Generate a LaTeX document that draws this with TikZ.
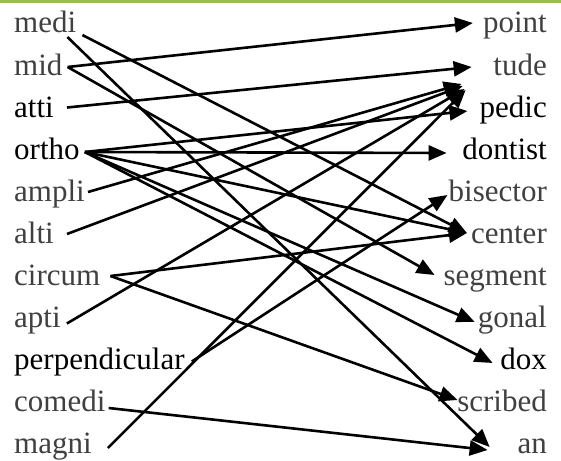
\documentclass[tikz,border=0pt]{standalone}
\usepackage{fontspec}
\setmainfont{Liberation Serif}
\usetikzlibrary{arrows.meta}

\definecolor{wordgray}{HTML}{404040}
\definecolor{topgreen}{HTML}{9BBB59}

\tikzset{
    lword/.style={anchor=base west, inner sep=0pt, text=wordgray, font=\rmfamily\fontsize{31}{36}\selectfont},
    rword/.style={anchor=base east, inner sep=0pt, text=wordgray, font=\rmfamily\fontsize{31}{36}\selectfont},
    link/.style={line width=2.6pt, -{Triangle[length=18pt, width=15pt]}}
}

\begin{document}
\begin{tikzpicture}[x=1pt, y=-1pt]
        \useasboundingbox (0, 0) rectangle (561, 460);
        \fill[topgreen] (0, 0) rectangle (561, 3);

        % left column
        \node[lword] (medi) at (14, 33) {medi};
        \node[lword] (mid) at (14, 75) {mid};
        \node[lword, text=black] (atti) at (14, 117) {atti};
        \node[lword, text=black] (ortho) at (14, 159) {ortho};
        \node[lword] (ampli) at (14, 201) {ampli};
        \node[lword] (alti) at (14, 243) {alti};
        \node[lword] (circum) at (14, 285) {circum};
        \node[lword] (apti) at (14, 327) {apti};
        \node[lword, text=black] (perpendicular) at (14, 369) {perpendicular};
        \node[lword] (comedi) at (14, 411) {comedi};
        \node[lword] (magni) at (14, 453) {magni};

        % right column
        \node[rword] (point) at (547, 33) {point};
        \node[rword] (tude) at (547, 75) {tude};
        \node[rword, text=black] (pedic) at (547, 117) {pedic};
        \node[rword, text=black] (dontist) at (547, 159) {dontist};
        \node[rword] (bisector) at (547, 201) {bisector};
        \node[rword] (center) at (547, 243) {center};
        \node[rword] (segment) at (547, 285) {segment};
        \node[rword] (gonal) at (547, 327) {gonal};
        \node[rword, text=black] (dox) at (547, 369) {dox};
        \node[rword] (scribed) at (547, 411) {scribed};
        \node[rword] (an) at (547, 453) {an};

        % matches
        \draw[link] ([xshift=-9pt, yshift=-4pt]medi.base east) -- ([xshift=-27.7pt, yshift=6pt]an.base west);
        \draw[link] ([xshift=6pt, yshift=-2pt]medi.base east) -- ([xshift=-4pt, yshift=10pt]center.base west);
        \draw[link] ([xshift=5pt, yshift=8pt]mid.base east) -- ([xshift=-10pt, yshift=10pt]point.base west);
        \draw[link] ([xshift=5pt, yshift=8pt]mid.base east) -- ([xshift=-8.7pt, yshift=10pt]segment.base west);
        \draw[link] ([xshift=13pt, yshift=9.5pt]atti.base east) -- ([xshift=-21.6pt, yshift=8pt]tude.base west);
        \draw[link] ([xshift=5pt, yshift=7pt]ortho.base east) -- ([xshift=-12pt, yshift=6pt]pedic.base west);
        \draw[link] ([xshift=5pt, yshift=7pt]ortho.base east) -- ([xshift=-15.6pt, yshift=6pt]dontist.base west);
        \draw[link] ([xshift=5pt, yshift=7pt]ortho.base east) -- ([xshift=-4pt, yshift=10pt]center.base west);
        \draw[link] ([xshift=5pt, yshift=7pt]ortho.base east) -- ([xshift=-3pt, yshift=5pt]gonal.base west);
        \draw[link] ([xshift=5pt, yshift=7pt]ortho.base east) -- ([xshift=-7.5pt, yshift=6pt]dox.base west);
        \draw[link] ([xshift=3pt, yshift=9pt]ampli.base east) -- ([xshift=-31.6pt, yshift=-9pt]tude.base west);
        \draw[link] ([xshift=13pt, yshift=9pt]alti.base east) -- ([xshift=-30.6pt, yshift=-11pt]tude.base west);
        \draw[link] ([xshift=10pt, yshift=9pt]circum.base east) -- ([xshift=-4pt, yshift=10pt]center.base west);
        \draw[link] ([xshift=10pt, yshift=9pt]circum.base east) -- ([xshift=0.5pt, yshift=11pt]scribed.base west);
        \draw[link] ([xshift=6pt, yshift=3.5pt]apti.base east) -- ([xshift=-28.6pt, yshift=-14pt]tude.base west);
        \draw[link] ([xshift=7pt, yshift=7.5pt]perpendicular.base east) -- ([xshift=-1pt, yshift=6pt]bisector.base west);
        \draw[link] ([xshift=3pt, yshift=3pt]comedi.base east) -- ([xshift=-29.7pt, yshift=3pt]an.base west);
        \draw[link] ([xshift=16pt, yshift=5pt]magni.base east) -- ([xshift=-27.6pt, yshift=-15pt]tude.base west);

    \end{tikzpicture}
\end{document}
